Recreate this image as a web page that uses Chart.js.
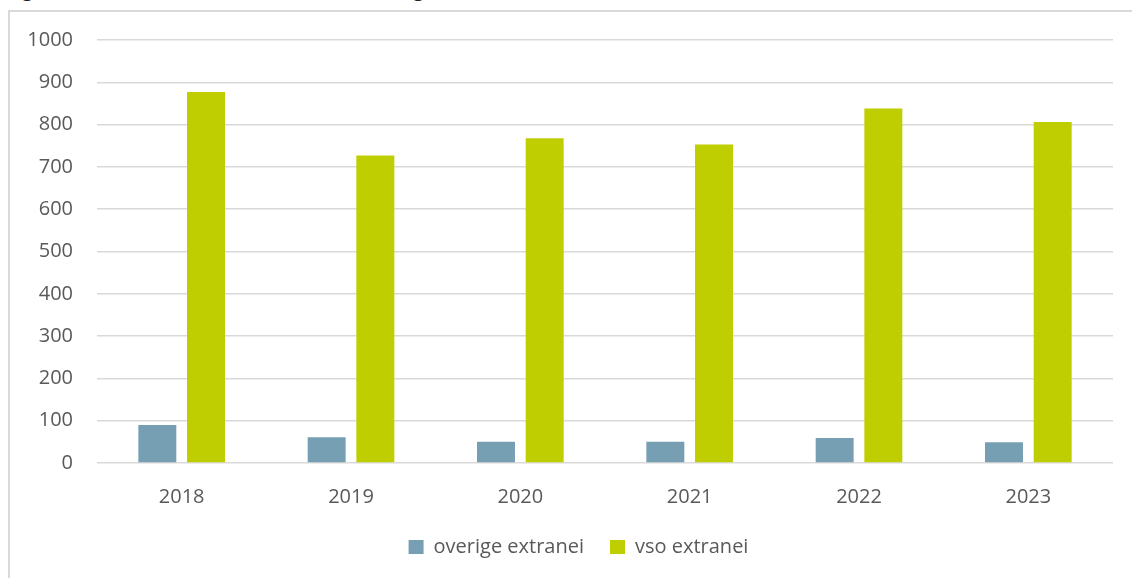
<!DOCTYPE html>
<html>
<head>
<meta charset="utf-8">
<script src="https://cdn.jsdelivr.net/npm/chart.js@4"></script>
<style>
  body { margin: 0; background: #fff; overflow: hidden; }
  #frame { position: absolute; left: 8px; top: 10px; width: 1140px; height: 600px; border: 2px solid #d9d9d9; }
  #wrap { position: absolute; left: 0; top: 0; width: 1132px; height: 578px; }
  .cut { position: absolute; top: -21px; font-family: "Open Sans", sans-serif; font-size: 20px; line-height: 20px; color: #222; }
</style>
</head>
<body>
<span class="cut" style="left:22px">g</span>
<span class="cut" style="left:413px">g</span>
<div id="frame"></div>
<div id="wrap"><canvas id="c" width="1132" height="578"></canvas></div>
<script>
var years = ["2018", "2019", "2020", "2021", "2022", "2023"];
var overige = [90, 61, 50, 50, 59, 49];
var vso = [877, 727, 768, 753, 838, 806];
var yTicks = [0, 100, 200, 300, 400, 500, 600, 700, 800, 900, 1000];

var font = { family: "'Open Sans', sans-serif", size: 20 };
var grey = "#595959";

// nudge the legend to the right, like the original
var legendShift = {
    id: "legendShift",
    afterLayout: function (chart) {
        chart.legend.left += 22;
        chart.legend.right += 22;
    }
};

var ctx = document.getElementById("c").getContext("2d");
new Chart(ctx, {
    type: "bar",
    data: {
        labels: years,
        datasets: [
            { label: "overige extranei", data: overige, backgroundColor: "#779fb3",
              categoryPercentage: 0.575, barPercentage: 0.78 },
            { label: "vso extranei", data: vso, backgroundColor: "#bfce00",
              categoryPercentage: 0.575, barPercentage: 0.78 }
        ]
    },
    options: {
        responsive: false,
        animation: false,
        layout: { padding: { top: 40, right: 19, bottom: 11, left: 0 } },
        plugins: {
            tooltip: { enabled: false },
            legend: {
                position: "bottom",
                labels: { color: grey, font: font, boxWidth: 15, boxHeight: 14, padding: 26 }
            }
        },
        scales: {
            x: {
                grid: { display: false },
                border: { display: false },
                ticks: { color: grey, font: font, padding: 14 },
                afterFit: function (scale) { scale.height = 48; }
            },
            y: {
                min: 0,
                max: 1000,
                afterBuildTicks: function (scale) {
                    scale.ticks = yTicks.map(function (v) { return { value: v }; });
                },
                grid: { color: "#d9d9d9", lineWidth: 1.5, drawTicks: false },
                border: { display: false },
                ticks: { color: grey, font: font, padding: 24,
                         callback: function (v) { return String(v); } },
                afterFit: function (scale) { scale.width = 97; }
            }
        }
    },
    plugins: [legendShift]
});
</script>
</body>
</html>
